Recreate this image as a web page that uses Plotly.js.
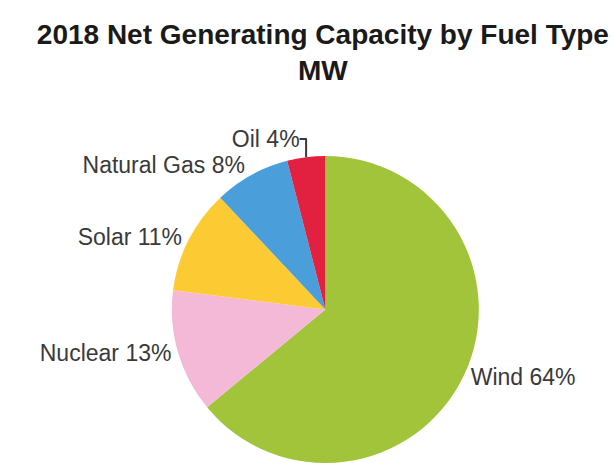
<!DOCTYPE html>
<html>
<head>
<meta charset="utf-8">
<script src="https://cdn.plot.ly/plotly-3.0.1.min.js"></script>
<style>html,body{margin:0;padding:0;background:#fff;}#chart{width:615px;height:463px;}</style>
</head>
<body>
<div id="chart"></div>
<script>
const fuelTypes = ["Wind", "Nuclear", "Solar", "Natural Gas", "Oil"];
const sharePct = [64, 13, 11, 8, 4];
const sliceColors = ["#a2c43a", "#f3b9d6", "#fccb33", "#4a9fdb", "#e1213f"];

const trace = {
  type: "pie",
  labels: fuelTypes,
  values: sharePct,
  sort: false,
  direction: "clockwise",
  rotation: 0,
  marker: { colors: sliceColors, line: { width: 0 } },
  textposition: "outside",
  texttemplate: "%{label} %{percent:.0%}",
  textfont: { family: "Liberation Sans, Arial, sans-serif", size: 23, color: "#3a3a3a" },
  outsidetextfont: { family: "Liberation Sans, Arial, sans-serif", size: 23, color: "#3a3a3a" },
  showlegend: false,
  hoverinfo: "label+percent",
  domain: { x: [0.278, 0.780], y: [0, 0.663] }
};

const layout = {
  width: 615,
  height: 463,
  margin: { l: 0, r: 0, t: 0, b: 0 },
  paper_bgcolor: "#ffffff",
  plot_bgcolor: "#ffffff",
  showlegend: false,
  title: {
    text: "<b>2018 Net Generating Capacity by Fuel Type<br>MW</b>",
    font: { family: "Liberation Sans, Arial, sans-serif", size: 28, color: "#1a1a1a" },
    x: 0.525,
    xanchor: "center",
    xref: "paper",
    y: 0.905,
    yanchor: "top",
    yref: "container"
  }
};

Plotly.newPlot("chart", [trace], layout, { displayModeBar: false, staticPlot: true });
</script>
</body>
</html>
